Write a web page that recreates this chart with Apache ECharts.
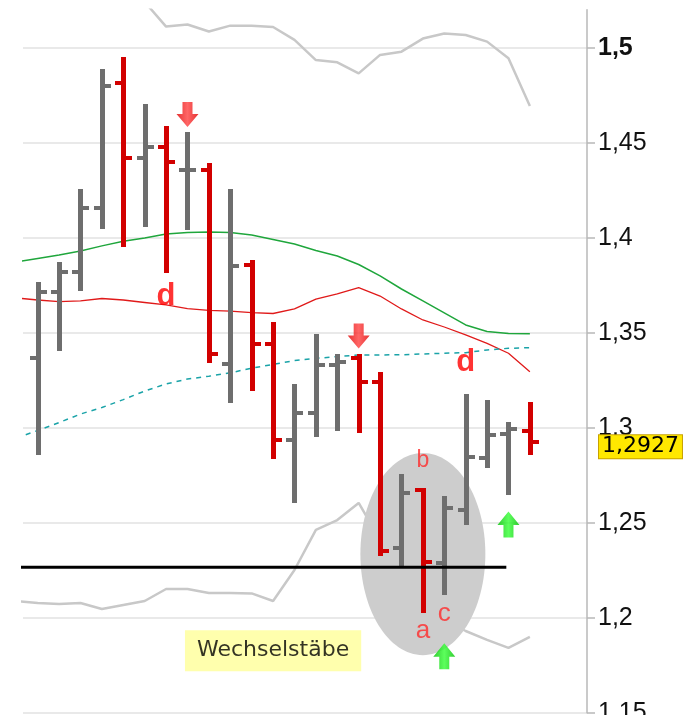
<!DOCTYPE html>
<html>
<head>
<meta charset="utf-8" />
<title>Wechselstäbe</title>
<style type="text/css">
	html, body, #chart {
		width: 100%;
		height: 100%;
		margin: 0;
		overflow: hidden;
		background: #fff;
	}
</style>
</head>
<body>
<div id="chart"></div>
<script src="https://cdn.jsdelivr.net/npm/echarts@6/dist/echarts.min.js"></script>
<script>
// Kursbalken, Index 0 = erster sichtbarer Balken
var opens  = [1.3368, 1.3716, 1.3821, 1.4155, 1.4816, 1.4421, 1.4479, 1.4356, 1.4356, 1.3334, 1.3856, 1.3440,
              1.2935, 1.3079, 1.3330, 1.3365, 1.3242, 1.2365, 1.2672, 1.2288, 1.2567, 1.2839, 1.2967, 1.2983];
var closes = [1.3716, 1.3821, 1.4155, 1.4798, 1.4421, 1.4479, 1.4397, 1.4356, 1.3386, 1.3853, 1.3440, 1.2935,
              1.3079, 1.3330, 1.3347, 1.3242, 1.2350, 1.2655, 1.2295, 1.2576, 1.2847, 1.2962, 1.2992, 1.2927];
var highs  = [1.3768, 1.3874, 1.4255, 1.4886, 1.4949, 1.4704, 1.4589, 1.4558, 1.4392, 1.4255, 1.3883, 1.3558,
              1.3230, 1.3493, 1.3388, 1.3388, 1.3295, 1.2756, 1.2684, 1.2642, 1.3177, 1.3146, 1.3028, 1.3137];
var lows   = [1.2856, 1.3405, 1.3721, 1.4046, 1.3953, 1.4058, 1.3816, 1.4041, 1.3342, 1.3132, 1.3195, 1.2834,
              1.2605, 1.2953, 1.2983, 1.2974, 1.2325, 1.2272, 1.2023, 1.2119, 1.2488, 1.2786, 1.2646, 1.2856];

// Indikatoren, beginnen einen Balken früher (Index -1)
var maLong  = [1.3872, 1.3891, 1.3909, 1.3930, 1.3957, 1.3981, 1.3998, 1.4019, 1.4028, 1.4030, 1.4027, 1.4014, 1.3991,
               1.3967, 1.3933, 1.3904, 1.3859, 1.3799, 1.3730, 1.3667, 1.3604, 1.3541, 1.3506, 1.3496, 1.3495];
var maMid   = [1.3683, 1.3672, 1.3664, 1.3667, 1.3680, 1.3672, 1.3659, 1.3646, 1.3627, 1.3617, 1.3614, 1.3606, 1.3601,
               1.3625, 1.3677, 1.3704, 1.3737, 1.3693, 1.3625, 1.3567, 1.3530, 1.3488, 1.3444, 1.3392, 1.3295];
var maShort = [1.2946, 1.2985, 1.3027, 1.3072, 1.3106, 1.3148, 1.3193, 1.3230, 1.3256, 1.3271, 1.3289, 1.3313, 1.3333,
               1.3353, 1.3365, 1.3374, 1.3383, 1.3383, 1.3384, 1.3388, 1.3392, 1.3395, 1.3409, 1.3418, 1.3421];
var bbUpper = [null, null, null, null, null, 1.5383, 1.5241, 1.5111, 1.5122, 1.5085, 1.5116, 1.5116, 1.5109,
               1.5041, 1.4935, 1.4923, 1.4865, 1.4962, 1.4979, 1.5048, 1.5075, 1.5067, 1.5032, 1.4944, 1.4693];
var bbLower = [1.2088, 1.2077, 1.2072, 1.2077, 1.2046, 1.2067, 1.2088, 1.2151, 1.2151, 1.2130, 1.2130, 1.2128, 1.2088,
               1.2251, 1.2462, 1.2514, 1.2604, 1.2409, 1.2146, 1.2041, 1.1988, 1.1930, 1.1883, 1.1841, 1.1899];

// Unterstützung, Ellipse, Signale, Beschriftungen
var supportLevel = 1.2265;
var supportRange = [-1, 21.9];
var ellipse = [18.0, 1.2335, 2.92, 0.0532]; // Mitte x, Mitte y, Halbachse x, Halbachse y
var downIdx = [7, 15];
var downVal = [1.4648, 1.3483];
var upIdx = [19, 22];
var upVal = [1.1797, 1.2490];
var noteIdx = [6, 20, 18, 18, 19];
var noteVal = [1.3693, 1.3341, 1.2827, 1.1932, 1.2018];
var noteText = ['d', 'd', 'b', 'a', 'c'];
var boxIdx = 11, boxVal = 1.1826, boxText = 'Wechselstäbe';
var lastPrice = closes[closes.length - 1];

function fmt(v) {
	return String(+v.toFixed(4)).replace('.', ',');
}
function withIndex(arr) {
	var out = [];
	for (var i = 0; i < arr.length; i++) out.push([i - 1, arr[i]]);
	return out;
}

var bars = opens.map(function (o, i) { return [i, o, closes[i], lows[i], highs[i]]; });

var chart = echarts.init(document.getElementById('chart'));

var noteData = noteText.map(function (t, i) {
	var big = t === 'd';
	return {
		value: [noteIdx[i], noteVal[i]],
		label: {
			formatter: t,
			fontSize: big ? 31 : (t === 'b' ? 23 : 26),
			fontWeight: big ? 'bold' : 'normal',
			color: big ? '#ff0000' : '#ff2a2a'
		}
	};
});

var option = {
	animation: false,
	backgroundColor: '#ffffff',
	grid: { left: 23, right: 96, top: 9.7, bottom: 2.3, outerBoundsMode: 'none', containLabel: false },
	xAxis: { type: 'value', min: -0.687, max: 25.67, show: false },
	yAxis: {
		type: 'value',
		position: 'right',
		min: 1.15,
		max: 1.52,
		interval: 0.05,
		axisLine: { show: true, onZero: false, lineStyle: { color: '#b8b8b8', width: 1.5 } },
		axisTick: { show: true, length: 8, lineStyle: { color: '#b8b8b8', width: 1.5 } },
		axisLabel: {
			margin: 11,
			fontFamily: 'Liberation Sans',
			fontSize: 25,
			color: '#111',
			showMaxLabel: false,
			formatter: function (v) {
				var s = String(+v.toFixed(2)).replace('.', ',');
				return Math.abs(v - 1.5) < 1e-6 ? '{b|' + s + '}' : s;
			},
			rich: { b: { fontFamily: 'Liberation Sans', fontSize: 25, fontWeight: 'bold', color: '#111' } }
		},
		splitLine: { show: true, showMaxLine: false, lineStyle: { color: '#e2e2e2', width: 1.5 } }
	},
	series: [
		{
			type: 'line', data: withIndex(bbUpper), symbol: 'none', z: 1,
			lineStyle: { color: '#c8c8c8', width: 2.5 }
		},
		{
			type: 'line', data: withIndex(bbLower), symbol: 'none', z: 1,
			lineStyle: { color: '#c8c8c8', width: 2.5 }
		},
		{
			type: 'line', data: withIndex(maLong), symbol: 'none', z: 2,
			lineStyle: { color: '#1fa63c', width: 1.5 }
		},
		{
			type: 'line', data: withIndex(maMid), symbol: 'none', z: 2,
			lineStyle: { color: '#e01a1a', width: 1.3 }
		},
		{
			type: 'line', data: withIndex(maShort), symbol: 'none', z: 2,
			lineStyle: { color: '#1aa3a8', width: 1.5, type: [5, 5] }
		},
		{
			type: 'custom', z: 3,
			data: [ellipse],
			renderItem: function (params, api) {
				var c = api.coord([api.value(0), api.value(1)]);
				var s = api.size([api.value(2), api.value(3)]);
				return {
					type: 'ellipse',
					shape: { cx: c[0], cy: c[1], rx: s[0], ry: s[1] },
					style: { fill: '#cdcdcd' }
				};
			}
		},
		{
			type: 'custom', z: 4,
			data: bars,
			renderItem: function (params, api) {
				var i = api.value(0);
				var o = api.coord([i, api.value(1)]);
				var c = api.coord([i, api.value(2)]);
				var l = api.coord([i, api.value(3)]);
				var h = api.coord([i, api.value(4)]);
				var color = api.value(2) >= api.value(1) ? '#6e6e6e' : '#d20000';
				var x = Math.round(h[0]);
				var top = Math.round(h[1]), bot = Math.round(l[1]);
				var oy = Math.round(o[1]), cy = Math.round(c[1]);
				return {
					type: 'group',
					children: [
						{ type: 'rect', shape: { x: x - 2, y: top, width: 5, height: bot - top }, style: { fill: color } },
						{ type: 'rect', shape: { x: x - 8, y: oy - 2, width: 6, height: 4 }, style: { fill: color } },
						{ type: 'rect', shape: { x: x + 3, y: cy - 2, width: 6, height: 4 }, style: { fill: color } }
					]
				};
			},
			markLine: {
				silent: true,
				symbol: 'none',
				lineStyle: { width: 0, color: 'rgba(0,0,0,0)' },
				label: {
					show: true,
					position: 'end',
					distance: 12,
					formatter: fmt(lastPrice),
					fontFamily: 'DejaVu Sans',
					fontSize: 22,
					color: '#000',
					backgroundColor: '#ffe800',
					borderColor: '#c8a200',
					borderWidth: 1,
					padding: [1, 3, 0, 3]
				},
				data: [{ yAxis: lastPrice }]
			}
		},
		{
			type: 'line', z: 5, symbol: 'none',
			data: [[supportRange[0], supportLevel], [supportRange[1], supportLevel]],
			lineStyle: { color: '#000000', width: 3 }
		},
		{
			type: 'scatter', z: 6,
			data: downIdx.map(function (x, i) { return [x, downVal[i]]; }),
			symbol: 'path://M6,0 L16,0 L16,12 L22,12 L11,25 L0,12 L6,12 Z',
			symbolSize: [22, 25],
			itemStyle: {
				color: new echarts.graphic.LinearGradient(0, 0, 1, 0, [
					{ offset: 0, color: '#e00000' }, { offset: 0.5, color: '#ff4040' }, { offset: 1, color: '#e00000' }
				])
			}
		},
		{
			type: 'scatter', z: 6,
			data: upIdx.map(function (x, i) { return [x, upVal[i]]; }),
			symbol: 'path://M11,0 L22,13 L16,13 L16,25 L6,25 L6,13 L0,13 Z',
			symbolSize: [22, 26],
			itemStyle: {
				color: new echarts.graphic.LinearGradient(0, 0, 1, 0, [
					{ offset: 0, color: '#00c000' }, { offset: 0.5, color: '#33ff33' }, { offset: 1, color: '#00c000' }
				])
			}
		},
		{
			type: 'scatter', z: 7,
			symbolSize: 0,
			data: noteData,
			label: { show: true, position: 'inside', fontFamily: 'Liberation Sans' }
		},
		{
			type: 'scatter', z: 7,
			symbolSize: 0,
			data: [[boxIdx, boxVal]],
			label: {
				show: true,
				position: 'inside',
				formatter: boxText,
				fontFamily: 'DejaVu Sans',
				fontSize: 22,
				color: '#000',
				backgroundColor: '#ffff99',
				padding: [10, 12, 9, 12]
			}
		}
	]
};
chart.setOption(option);
</script>
</body>
</html>
